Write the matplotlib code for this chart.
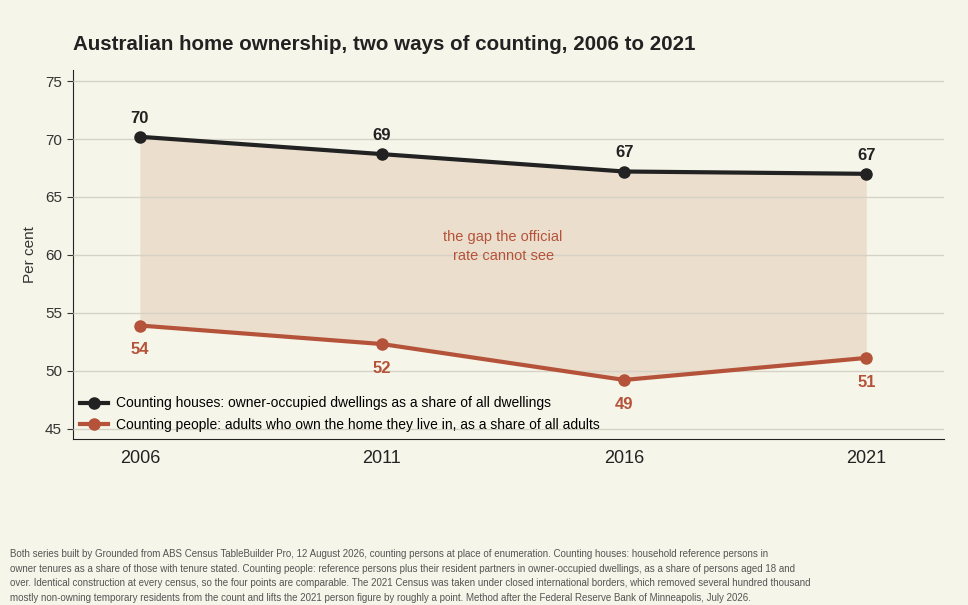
import matplotlib.pyplot as plt

years = [2006, 2011, 2016, 2021]
houses = [70.2, 68.7, 67.2, 67.0]
people = [53.9, 52.3, 49.2, 51.1]
houses_labels = ["70", "69", "67", "67"]
people_labels = ["54", "52", "49", "51"]
yticks = [45, 50, 55, 60, 65, 70, 75]

bg = "#f5f5e9"
dark = "#222222"
rust = "#b5533a"

plt.rcParams['font.family'] = ['Liberation Sans', 'DejaVu Sans']

fig = plt.figure(figsize=(9.68, 6.05), dpi=100, facecolor=bg)
ax = fig.add_axes([0.0754, 0.2744, 0.8996, 0.6096], facecolor=bg)

ax.fill_between(years, houses, people, color="#e9d9c6", alpha=0.8, lw=0, zorder=1)
ax.plot(years, houses, '-o', color=dark, lw=3, ms=8, zorder=3,
        label="Counting houses: owner-occupied dwellings as a share of all dwellings")
ax.plot(years, people, '-o', color=rust, lw=3, ms=8, zorder=3,
        label="Counting people: adults who own the home they live in, as a share of all adults")

for x, y, s in zip(years, houses, houses_labels):
    ax.annotate(s, (x, y), xytext=(0, 8), textcoords="offset points", ha="center",
                va="bottom", fontsize=12, fontweight="bold", color=dark)
for x, y, s in zip(years, people, people_labels):
    ax.annotate(s, (x, y), xytext=(0, -12), textcoords="offset points", ha="center",
                va="top", fontsize=12, fontweight="bold", color=rust)

ax.text(2013.5, 60.7, "the gap the official\nrate cannot see", ha="center", va="center",
        fontsize=10.5, color=rust, linespacing=1.45)

ax.set_xlim(2004.62, 2022.6)
ax.set_ylim(44.1, 75.95)
ax.set_xticks(years)
ax.set_yticks(yticks)
ax.tick_params(axis="x", length=0, labelsize=13, colors=dark, pad=8)
ax.tick_params(axis="y", length=4, labelsize=11, colors="#333333", pad=4)
ax.grid(axis="y", color="#d6d3c6", lw=1, zorder=2)
ax.set_axisbelow(False)
ax.grid(axis="x", visible=False)
for side in ["top", "right"]:
    ax.spines[side].set_visible(False)
ax.spines["left"].set_color(dark)
ax.spines["bottom"].set_color(dark)
ax.set_ylabel("Per cent", fontsize=11, color="#333333", labelpad=6)

ax.legend(loc="lower left", frameon=False, fontsize=10, handlelength=2.0,
          handletextpad=0.6, borderaxespad=0.1, labelspacing=0.55,
          bbox_to_anchor=(0, 0.0))

fig.text(0.0754, 0.926, "Australian home ownership, two ways of counting, 2006 to 2021",
         fontsize=14.8, fontweight="bold", color=dark, ha="left", va="center")

note = ("Both series built by Grounded from ABS Census TableBuilder Pro, 12 August 2026, counting persons at place of enumeration. Counting houses: household reference persons in\n"
        "owner tenures as a share of those with tenure stated. Counting people: reference persons plus their resident partners in owner-occupied dwellings, as a share of persons aged 18 and\n"
        "over. Identical construction at every census, so the four points are comparable. The 2021 Census was taken under closed international borders, which removed several hundred thousand\n"
        "mostly non-owning temporary residents from the count and lifts the 2021 person figure by roughly a point. Method after the Federal Reserve Bank of Minneapolis, July 2026.")
fig.text(0.0103, 0.004, note, fontsize=7, color="#555555", ha="left", va="bottom",
         linespacing=1.55, family=['Liberation Sans Narrow', 'Liberation Sans', 'DejaVu Sans'])

fig.savefig("out.png", dpi=100, facecolor=bg)
